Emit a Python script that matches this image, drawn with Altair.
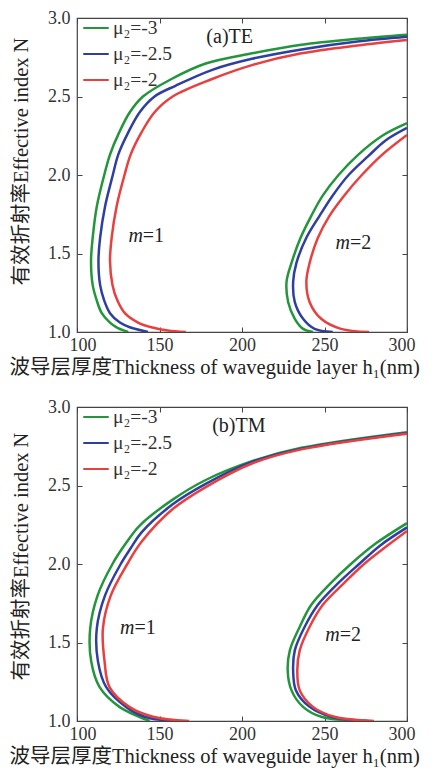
import altair as alt
import pandas as pd

MU_LABELS = ["μ₂=-3", "μ₂=-2.5", "μ₂=-2"]
COLORS = ["#23963c", "#2f3f9f", "#e8403f"]
X_TICKS = [100, 150, 200, 250, 300]
Y_TICKS = [1.0, 1.5, 2.0, 2.5, 3.0]
X_TITLE = "波导层厚度Thickness of waveguide layer h₁(nm)"
Y_TITLE = "有效折射率Effective index N"

# (N, h) pairs, top of each curve to bottom
TE_M1_G = [(2.894, 300), (2.868, 270), (2.83, 236), (2.775, 206), (2.71, 178), (2.61, 157), (2.50, 140),
           (2.40, 132), (2.27, 125.5), (2.13, 120), (2.00, 116.5), (1.80, 112), (1.60, 109.5),
           (1.45, 108.5), (1.30, 109.5), (1.20, 112), (1.12, 115), (1.06, 120), (1.03, 124), (1.00, 131)]
TE_M1_B = [(2.88, 300), (2.85, 270), (2.80, 236), (2.74, 206), (2.67, 182), (2.57, 160), (2.50, 147),
           (2.40, 138), (2.27, 131), (2.13, 125), (2.00, 121.7), (1.80, 117), (1.60, 114), (1.45, 113),
           (1.30, 114), (1.20, 116.5), (1.12, 120), (1.06, 126), (1.03, 132), (1.00, 143)]
TE_M1_R = [(2.86, 300), (2.825, 270), (2.775, 236), (2.70, 206), (2.61, 181.5), (2.50, 158), (2.40, 147),
           (2.27, 139), (2.13, 132.5), (2.00, 128.8), (1.80, 124), (1.60, 121), (1.45, 120), (1.30, 121.5),
           (1.20, 124.5), (1.12, 129), (1.06, 137), (1.03, 145), (1.01, 155), (1.00, 166)]
TE_M2_G = [(2.33, 300), (2.25, 285), (2.13, 270.5), (2.00, 258.5), (1.87, 249), (1.74, 242), (1.60, 235.5),
           (1.44, 230), (1.32, 227), (1.19, 228), (1.084, 232), (1.02, 237), (1.00, 243)]
TE_M2_B = [(2.30, 300), (2.22, 287), (2.12, 276.5), (2.00, 264.6), (1.87, 255), (1.74, 247), (1.60, 239),
           (1.44, 233), (1.32, 231), (1.19, 232), (1.084, 237), (1.02, 244), (1.00, 255)]
TE_M2_R = [(2.255, 300), (2.13, 285), (2.00, 272.6), (1.87, 262), (1.74, 253), (1.60, 246),
           (1.44, 241), (1.32, 239), (1.19, 241), (1.084, 248), (1.02, 260), (1.00, 277)]

TM_M1_G = [(2.84, 300), (2.74, 236), (2.655, 206), (2.535, 178), (2.41, 158), (2.245, 138), (2.13, 129.5),
           (2.00, 121.5), (1.80, 112.5), (1.59, 108), (1.38, 108.6), (1.216, 113.7), (1.09, 125.7),
           (1.027, 137.7), (1.00, 144)]
TM_M1_B = [(2.835, 300), (2.735, 236), (2.65, 206), (2.51, 178), (2.38, 158), (2.20, 139), (2.10, 132.5),
           (2.00, 126.5), (1.80, 117), (1.59, 112), (1.38, 112.7), (1.216, 117.7), (1.09, 129.7),
           (1.027, 141), (1.00, 158)]
TM_M1_R = [(2.83, 300), (2.73, 236), (2.64, 206), (2.49, 178), (2.35, 158), (2.14, 139), (2.00, 130.5),
           (1.80, 120.5), (1.59, 115.7), (1.38, 116.7), (1.216, 119.7), (1.09, 131.7), (1.027, 146),
           (1.00, 168)]
TM_M2_G = [(2.26, 300), (2.13, 281), (2.00, 266), (1.87, 253), (1.74, 242), (1.60, 235), (1.45, 229),
           (1.32, 227.7), (1.195, 230), (1.09, 237), (1.027, 248), (1.00, 274)]
TM_M2_B = [(2.233, 300), (2.12, 284), (2.00, 271), (1.87, 257.5), (1.74, 246), (1.60, 238), (1.45, 232),
           (1.32, 231), (1.195, 232.7), (1.09, 241), (1.027, 254), (1.00, 276)]
TM_M2_R = [(2.21, 300), (2.10, 286), (2.00, 274), (1.87, 261), (1.74, 249), (1.60, 241), (1.45, 235),
           (1.32, 233.5), (1.195, 235), (1.09, 243), (1.027, 256), (1.00, 280)]

# annotations: (text, h, N, italic)
TE_ANN = [("(a)TE", 178.4, 2.88, False),
          ("m", 139.9, 1.61, True), ("=1", 139.9, 1.61, False),
          ("m", 265.5, 1.57, True), ("=2", 265.5, 1.57, False)]
TM_ANN = [("(b)TM", 181.9, 2.88, False),
          ("m", 134.8, 1.593, True), ("=1", 134.8, 1.593, False),
          ("m", 259.2, 1.55, True), ("=2", 259.2, 1.55, False)]


def curves(groups):
    rows = []
    for mode, trio in groups:
        for mu, pts in zip(MU_LABELS, trio):
            for i, (n, h) in enumerate(pts):
                rows.append({"mode": mode, "mu": mu, "N": n, "h": h, "idx": i, "key": mode + mu})
    return pd.DataFrame(rows)


def ann_df(items):
    return pd.DataFrame([{"text": t, "h": h, "N": n, "it": it} for t, h, n, it in items])


XS = alt.Scale(domain=[100, 300], nice=False, zero=False)
YS = alt.Scale(domain=[1, 3], nice=False, zero=False)
SERIF = "Liberation Serif"
TITLEFONT = "Liberation Serif, Noto Sans CJK SC"


def panel(df, ann, ytitle_pos):
    lines = alt.Chart(df).mark_line(strokeWidth=2.5, clip=True, interpolate="catmull-rom").encode(
        x=alt.X("h:Q", scale=XS, axis=alt.Axis(orient="bottom", values=X_TICKS, format="d", title=X_TITLE,
                                                offset=-5, tickSize=5, domain=False, grid=False,
                                                labelFlush=True, labelFlushOffset=8,
                                                labelPadding=4, titlePadding=3,
                                                titleX=-68, titleAlign="left", titleAnchor="start",
                                                titleFontSize=20.5)),
        y=alt.Y("N:Q", scale=YS, axis=alt.Axis(orient="left", values=Y_TICKS, format=".1f", title=Y_TITLE,
                                                offset=-5, tickSize=5, domain=False, grid=False,
                                                labelPadding=7, titlePadding=16, titleY=ytitle_pos,
                                                titleFontSize=20.5)),
        color=alt.Color("mu:N", scale=alt.Scale(domain=MU_LABELS, range=COLORS),
                        legend=alt.Legend(orient="none", legendX=5, legendY=-4, title=None,
                                          symbolType="stroke", symbolSize=650, symbolStrokeWidth=2,
                                          labelFont=SERIF, labelFontSize=19.5, labelColor="#333",
                                          labelOffset=3, rowPadding=2, padding=0)),
        detail="key:N",
        order="idx:Q",
    )
    a = ann_df(ann)
    frame = alt.Chart(a).transform_filter("!datum.it").mark_text(
        font=SERIF, fontSize=20, color="#222", baseline="middle", align="left").encode(
        x=alt.X("h:Q", scale=XS, axis=alt.Axis(orient="top", values=X_TICKS, labels=False, title=None,
                                                offset=-5, tickSize=5, domain=False, grid=False)),
        y=alt.Y("N:Q", scale=YS, axis=alt.Axis(orient="right", values=Y_TICKS, labels=False, title=None,
                                                offset=-5, tickSize=5, domain=False, grid=False)),
        text="text:N",
    )
    ital = alt.Chart(a).transform_filter("datum.it").mark_text(
        font=SERIF, fontSize=20, fontStyle="italic", color="#222", baseline="middle", align="right").encode(
        x=alt.X("h:Q", scale=XS, axis=None),
        y=alt.Y("N:Q", scale=YS, axis=None),
        text="text:N",
    )
    return alt.layer(lines, frame, ital).properties(width=330, height=314)


top = panel(curves([("m1", [TE_M1_G, TE_M1_B, TE_M1_R]), ("m2", [TE_M2_G, TE_M2_B, TE_M2_R])]), TE_ANN, 143)
bottom = panel(curves([("m1", [TM_M1_G, TM_M1_B, TM_M1_R]), ("m2", [TM_M2_G, TM_M2_B, TM_M2_R])]), TM_ANN, 149)

chart = alt.vconcat(top, bottom, spacing=18).resolve_legend(color="independent").properties(
    padding={"left": 0, "top": 0, "right": 0, "bottom": 0}
).configure_view(stroke="#444", strokeWidth=1.2).configure_axis(
    labelFont=SERIF, labelFontSize=18, labelColor="#333", tickColor="#444", tickWidth=1,
    titleFont=TITLEFONT, titleFontWeight="normal", titleColor="#222",
)

chart.save("out.html", embed_options={"renderer": "svg", "actions": False})
